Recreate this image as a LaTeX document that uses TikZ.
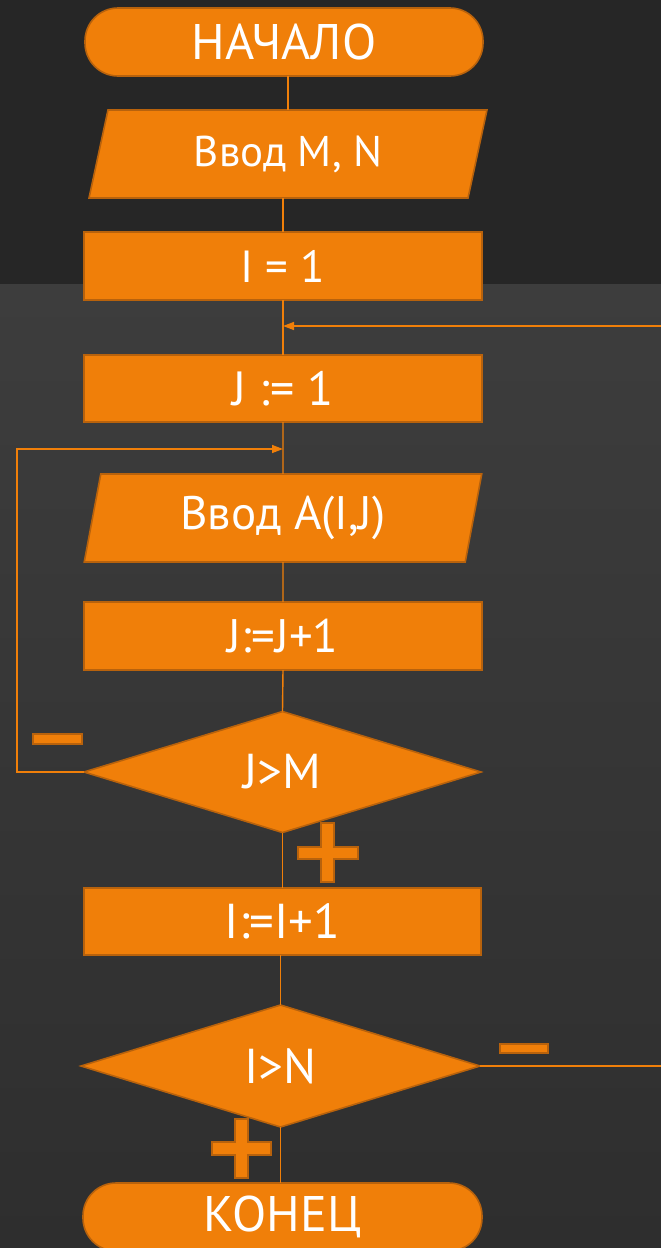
\documentclass[tikz,border=0pt]{standalone}
\usepackage{fontspec}
\setmainfont{PT Sans}
\usetikzlibrary{shapes.geometric,arrows.meta}
\definecolor{bgtop}{HTML}{262626}
\definecolor{bgmid}{HTML}{3D3D3D}
\definecolor{bgbot}{HTML}{2E2E2E}
\definecolor{orfill}{HTML}{F07F09}
\definecolor{orline}{HTML}{B8620C}
\newcommand{\fs}[1]{\fontsize{#1}{#1}\selectfont}
\tikzset{
  block/.style={draw=orline, line width=1.6pt, fill=orfill, text=white, inner sep=0pt, outer sep=0pt},
  procbox/.style={block, rectangle, minimum width=398pt, minimum height=68pt},
  termbox/.style={block, rectangle, rounded corners=33pt, minimum width=398pt, minimum height=68pt},
  iobox/.style={block, trapezium, trapezium stretches=true, minimum width=398pt, minimum height=88pt},
  decbox/.style={block, diamond, minimum width=398pt, minimum height=121pt},
  conn/.style={draw=orfill, line width=1.4pt},
  arr/.style={conn, -{Triangle[length=11pt,width=8pt]}},
  sign/.style={fill=orfill, draw=orline, line width=1.4pt}
}
\begin{document}
\begin{tikzpicture}[x=1pt,y=-1pt]
\clip (0,0) rectangle (661,1248);
% background
\fill[bgtop] (0,0) rectangle (661,284);
\shade[top color=bgmid, bottom color=bgbot] (0,284) rectangle (661,1248);

% nodes
\node[termbox] (start) at (284,42) {\fs{50}НАЧАЛО};
\node[iobox, trapezium left angle=75, trapezium right angle=105] (in1) at (288,154) {\fs{43}Ввод M, N};
\node[procbox] (box1) at (283,266) {\fs{45}I = 1};
\node[procbox, minimum height=67pt] (j1) at (283,388.5) {\fs{48}J := 1};
\node[iobox, trapezium left angle=78, trapezium right angle=102] (in2) at (283,518) {\fs{47}Ввод A(I,J)};
\node[procbox] (jinc) at (283,636) {\fs{47}J:=J+1};
\node[decbox, minimum width=397pt] (c1) at (282.5,772) {\fs{49}J>M};
\node[procbox, minimum width=397pt, minimum height=67pt] (iinc) at (282.5,921.5) {\fs{49}I:=I+1};
\node[decbox, minimum width=399pt, minimum height=122pt] (c2) at (280.5,1066) {\fs{49}I>N};
\node[termbox, minimum width=399pt] (end) at (282.5,1217) {\fs{50}КОНЕЦ};

\coordinate (m1) at (283,326);
\coordinate (m2) at (283,449);

% connectors
\draw[conn] (start.south -| in1.north) -- (in1.north);
\draw[conn] (in1.south -| box1.north) -- (box1.north);
\draw[conn] (box1.south) -- (j1.north);
\draw[conn] (j1.south) -- (in2.north);
\draw[conn] (in2.south) -- (jinc.north);
\draw[conn] (jinc.south) -- (c1.north);
\draw[conn] (c1.south) -- (iinc.north);
\draw[conn] (iinc.south -| c2.north) -- (c2.north);
\draw[conn] (c2.south) -- (c2.south |- end.north);
\draw[arr] (c1.west) -- ++(-67,0) |- (m2);
\draw[arr] (c2.east) -- ++(220,0) |- (m1);

% signs
\draw[sign] (33,734) rectangle (82,744);
\draw[sign] (500,1044) rectangle (548,1053);
\draw[sign] (321,823) -- (334,823) -- (334,847) -- (358,847) -- (358,859) -- (334,859) -- (334,882) -- (321,882) -- (321,859) -- (298,859) -- (298,847) -- (321,847) -- cycle;
\draw[sign] (235,1119) -- (248,1119) -- (248,1142) -- (271,1142) -- (271,1155) -- (248,1155) -- (248,1178) -- (235,1178) -- (235,1155) -- (212,1155) -- (212,1142) -- (235,1142) -- cycle;
\end{tikzpicture}
\end{document}
